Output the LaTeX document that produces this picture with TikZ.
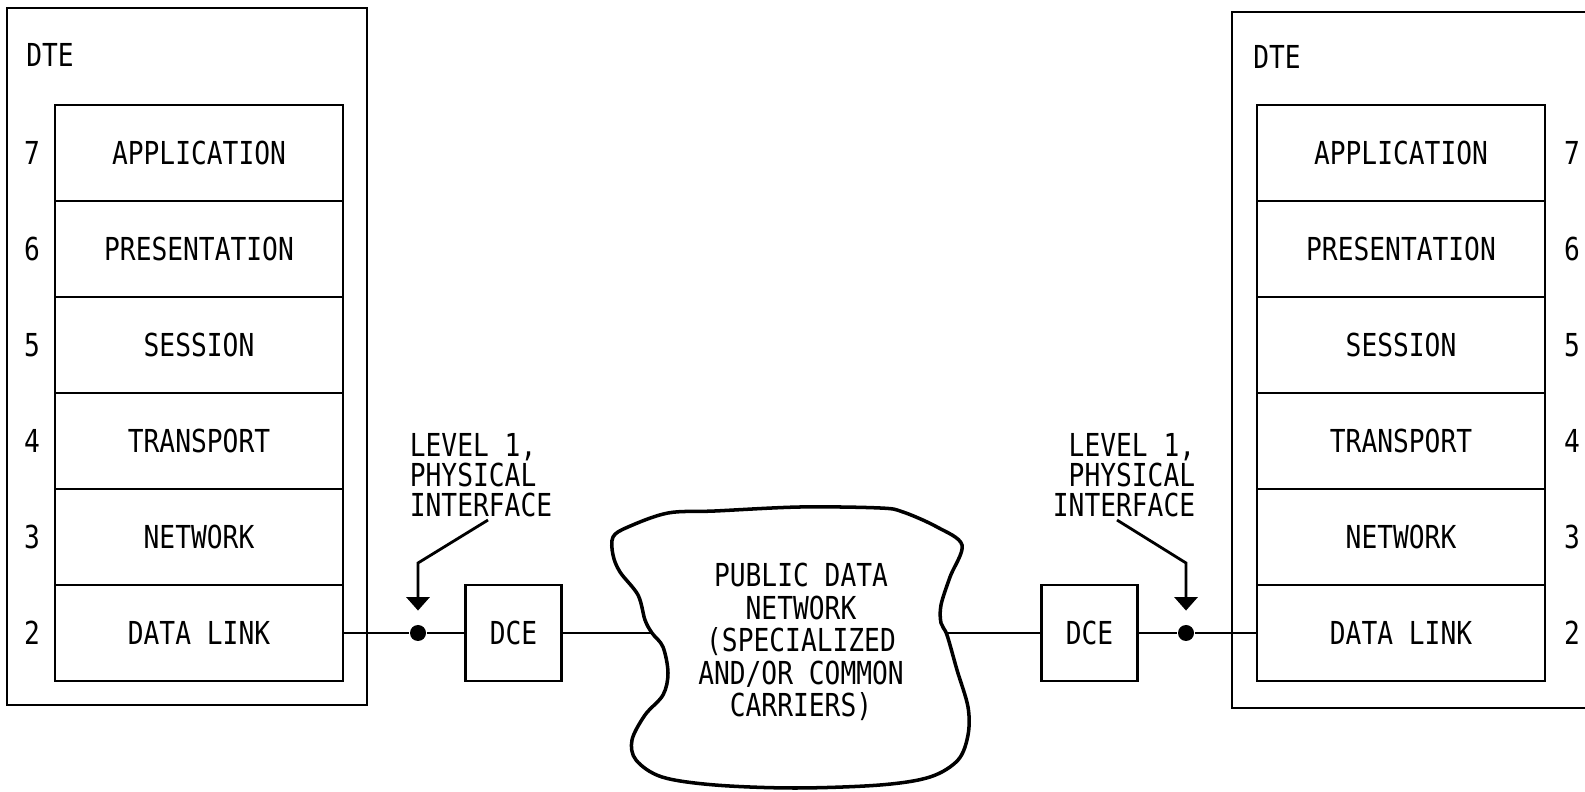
\documentclass[tikz,border=0pt]{standalone}
\usepackage{fontspec}
\newfontfamily\osifont[FakeStretch=0.83]{DejaVu Sans Mono}
\usetikzlibrary{arrows.meta}

\begin{document}
\begin{tikzpicture}[line width=0.8pt,font=\osifont\fontsize{9pt}{8.5pt}\selectfont]
	%\draw[help lines] (0,0) grid (16,8);
	\clip (0,0) rectangle (15.85,7.91);
	
	\tikzstyle{layer} = [draw,minimum width=2.88cm,minimum height=0.96cm,inner sep=0,outer sep=0]
	\tikzstyle{dcebox} = [draw,minimum width=0.96cm,minimum height=0.96cm,inner sep=0,outer sep=0]
	\tikzstyle{dot} = [circle,fill,inner sep=0,minimum size=0.16cm]
	\tikzstyle{pointer} = [-{Triangle[width=6.5pt,length=3.8pt]}]
	
	% left DTE
	\draw (0.07,0.86) rectangle (3.67,7.83);
	\node (dte1) at (0.50,7.36) {DTE};
	\node[layer] (ap1) at (1.99,6.38) {APPLICATION};
	\node[layer] (pr1) at (1.99,5.42) {PRESENTATION};
	\node[layer] (se1) at (1.99,4.46) {SESSION};
	\node[layer] (tr1) at (1.99,3.50) {TRANSPORT};
	\node[layer] (nw1) at (1.99,2.54) {NETWORK};
	\node[layer] (dl1) at (1.99,1.58) {DATA LINK};
	\node (n17) at (0.32,6.38) {7};
	\node (n16) at (0.32,5.42) {6};
	\node (n15) at (0.32,4.46) {5};
	\node (n14) at (0.32,3.50) {4};
	\node (n13) at (0.32,2.54) {3};
	\node (n12) at (0.32,1.58) {2};
	
	% right DTE
	\draw (12.32,0.83) rectangle (16.20,7.79);
	\node (dte2) at (12.77,7.34) {DTE};
	\node[layer] (ap2) at (14.01,6.38) {APPLICATION};
	\node[layer] (pr2) at (14.01,5.42) {PRESENTATION};
	\node[layer] (se2) at (14.01,4.46) {SESSION};
	\node[layer] (tr2) at (14.01,3.50) {TRANSPORT};
	\node[layer] (nw2) at (14.01,2.54) {NETWORK};
	\node[layer] (dl2) at (14.01,1.58) {DATA LINK};
	\node (n27) at (15.72,6.38) {7};
	\node (n26) at (15.72,5.42) {6};
	\node (n25) at (15.72,4.46) {5};
	\node (n24) at (15.72,3.50) {4};
	\node (n23) at (15.72,2.54) {3};
	\node (n22) at (15.72,1.58) {2};
	
	% public data network
	\draw[line width=1pt] plot[smooth cycle,tension=0.55] coordinates {
		(6.13,2.54) (6.28,2.64) (6.68,2.78) (7.15,2.80) (8.00,2.84) (8.80,2.83)
		(9.03,2.79) (9.37,2.64) (9.62,2.46) (9.50,2.14) (9.41,1.86) (9.41,1.68)
		(9.47,1.56) (9.57,1.21) (9.68,0.84) (9.68,0.56) (9.58,0.31) (9.30,0.14)
		(8.80,0.06) (7.95,0.03) (7.15,0.06) (6.62,0.14) (6.36,0.31) (6.32,0.51)
		(6.45,0.76) (6.63,0.96) (6.68,1.18) (6.63,1.44) (6.52,1.58) (6.45,1.71)
		(6.38,1.96) (6.20,2.19) (6.13,2.36)};
	\node[align=center,font=\osifont\fontsize{9pt}{9.25pt}\selectfont] (pdn) at (8.01,1.49)
		{PUBLIC DATA\\NETWORK\\(SPECIALIZED\\AND/OR COMMON\\CARRIERS)};
	\coordinate (cl) at (6.52,1.58);
	\coordinate (cr) at (9.47,1.58);
	
	% DCEs and interfaces
	\node[dcebox] (dce1) at (5.135,1.58) {DCE};
	\node[dcebox] (dce2) at (10.895,1.58) {DCE};
	\node[dot] (d1) at (4.18,1.58) {};
	\node[dot] (d2) at (11.86,1.58) {};
	\node[align=left,inner sep=0] (lvl1) at (4.81,3.16) {LEVEL 1,\\PHYSICAL\\INTERFACE};
	\node[align=right,inner sep=0] (lvl2) at (11.24,3.16) {LEVEL 1,\\PHYSICAL\\INTERFACE};
	\coordinate (b1) at (4.18,2.28);
	\coordinate (b2) at (11.86,2.28);
	
	\draw (dl1) -- (d1) -- (dce1);
	\draw (dce1) -- (cl);
	\draw (cr) -- (dce2);
	\draw (dce2) -- (d2) -- (dl2);
	\draw[pointer] ([xshift=0.07cm,yshift=-0.02cm]lvl1.south) -- (b1) -- ([yshift=0.13cm]d1.north);
	\draw[pointer] ([xshift=-0.07cm,yshift=-0.02cm]lvl2.south) -- (b2) -- ([yshift=0.13cm]d2.north);

\end{tikzpicture}
\end{document}
